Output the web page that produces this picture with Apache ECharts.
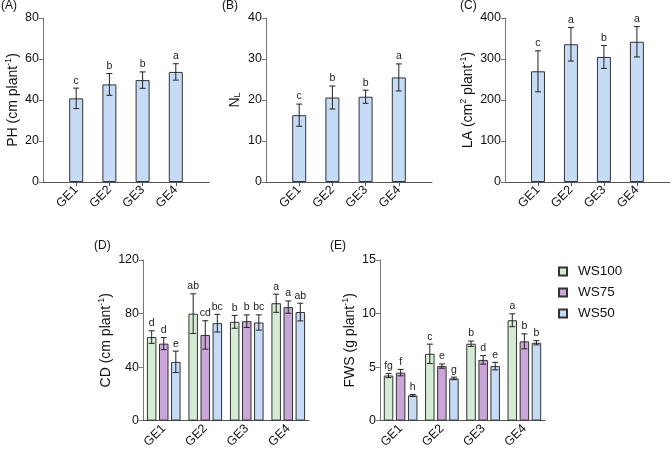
<!DOCTYPE html>
<html lang="en">
<head>
  <meta charset="UTF-8">
  <title>GE x WS</title>
  <style>
    html, body { margin: 0; padding: 0; background: #fff; }
    #chart { width: 672px; height: 451px; }
  </style>
</head>
<body>
  <div id="chart"></div>
  <script src="https://cdn.jsdelivr.net/npm/echarts@6/dist/echarts.min.js"></script>
  <script>
    // categories
    var cats = ['GE1', 'GE2', 'GE3', 'GE4'];
    var waterLevels = ['WS100', 'WS75', 'WS50'];

    // (A) plant height
    var phMean = [40.8, 47.6, 49.7, 53.7];
    var phErr = [5.0, 5.3, 4.0, 4.0];
    var phLetters = ['c', 'b', 'b', 'a'];
    // (B) leaf number
    var nlMean = [16.3, 20.6, 20.8, 25.5];
    var nlErr = [2.7, 2.8, 1.6, 3.3];
    var nlLetters = ['c', 'b', 'b', 'a'];
    // (C) leaf area
    var laMean = [270, 336, 305, 342];
    var laErr = [50, 41, 28, 37];
    var laLetters = ['c', 'a', 'b', 'a'];

    // (D) canopy diameter, one array per water level
    var cd100 = [62.4, 79.9, 73.8, 87.7];
    var cd100Err = [4.7, 14.8, 4.8, 6.8];
    var cd75 = [57.5, 64.0, 74.3, 84.8];
    var cd75Err = [4.5, 10.6, 4.7, 4.6];
    var cd50 = [43.9, 72.8, 73.3, 81.1];
    var cd50Err = [8.0, 6.6, 5.7, 6.6];
    var cd100Letters = ['d', 'ab', 'b', 'a'];
    var cd75Letters = ['d', 'cd', 'b', 'a'];
    var cd50Letters = ['e', 'bc', 'bc', 'ab'];

    // (E) fresh weight of shoot
    var fws100 = [4.21, 6.24, 7.18, 9.37];
    var fws100Err = [0.2, 0.9, 0.25, 0.6];
    var fws75 = [4.48, 5.09, 5.67, 7.4];
    var fws75Err = [0.3, 0.2, 0.4, 0.7];
    var fws50 = [2.35, 3.94, 5.09, 7.27];
    var fws50Err = [0.1, 0.12, 0.35, 0.2];
    var fws100Letters = ['fg', 'c', 'b', 'a'];
    var fws75Letters = ['f', 'e', 'd', 'b'];
    var fws50Letters = ['h', 'g', 'e', 'b'];

    var FONT = '"Liberation Sans", Arial, sans-serif';
    var colors = ['#d4ecd4', '#cba6d9', '#c6dcf6'];
    var BAR_W = 9.5;
    var BAR_GAP = 0.27;

    var rich = {
      b: { fontSize: 14, fontFamily: FONT, color: '#111', lineHeight: 18 },
      sup: { fontSize: 9, fontFamily: FONT, color: '#111', lineHeight: 18, padding: [0, 0, 8, 0] },
      sub: { fontSize: 9, fontFamily: FONT, color: '#111', lineHeight: 18, padding: [6, 0, 0, 0] }
    };

    // top row uses padded categories so the axis runs a bit past the bars
    var padCats = [''].concat(cats, ['']);

    function topX(gi) {
      return {
        type: 'category', gridIndex: gi, data: padCats, boundaryGap: false,
        axisLine: { lineStyle: { color: '#555', width: 1 } },
        axisTick: { length: 4, lineStyle: { color: '#555' }, interval: function (i) { return i > 0 && i < 5; } },
        axisLabel: { rotate: 45, fontSize: 12.5, fontFamily: FONT, color: '#111', margin: 6, interval: 0 }
      };
    }
    function botX(gi) {
      return {
        type: 'category', gridIndex: gi, data: cats, boundaryGap: true,
        axisLine: { lineStyle: { color: '#555', width: 1 } },
        axisTick: { length: 4, alignWithLabel: true, lineStyle: { color: '#555' } },
        axisLabel: { rotate: 45, fontSize: 12.5, fontFamily: FONT, color: '#111', margin: 6, interval: 0 }
      };
    }
    function yAx(gi, max, interval, name, gap) {
      return {
        type: 'value', gridIndex: gi, min: 0, max: max, interval: interval,
        name: name, nameLocation: 'middle', nameGap: gap, nameRotate: 90,
        nameTextStyle: { rich: rich },
        axisLine: { show: true, lineStyle: { color: '#777', width: 1 } },
        axisTick: { show: true, length: 4, lineStyle: { color: '#777' } },
        axisLabel: { fontSize: 12.5, fontFamily: FONT, color: '#111', margin: 4 },
        splitLine: { show: false }
      };
    }

    // error bar + letter drawn in pixel space from data values
    function errSeries(gi, mean, err, letters, offset, name) {
      return {
        type: 'custom', name: name, xAxisIndex: gi, yAxisIndex: gi, z: 5,
        data: mean.map(function (m, i) { return [cats[i], m - err[i], m + err[i]]; }),
        renderItem: function (params, api) {
          var lo = api.coord([api.value(0), api.value(1)]);
          var hi = api.coord([api.value(0), api.value(2)]);
          var x = lo[0] + offset;
          var cap = 3;
          var style = { stroke: '#222', lineWidth: 1 };
          return {
            type: 'group',
            children: [
              { type: 'line', shape: { x1: x, y1: lo[1], x2: x, y2: hi[1] }, style: style },
              { type: 'line', shape: { x1: x - cap, y1: lo[1], x2: x + cap, y2: lo[1] }, style: style },
              { type: 'line', shape: { x1: x - cap, y1: hi[1], x2: x + cap, y2: hi[1] }, style: style },
              { type: 'text', x: x, y: hi[1] - 2, style: { text: letters[params.dataIndex], fill: '#222', font: '10.5px ' + FONT, textAlign: 'center', textVerticalAlign: 'bottom' } }
            ]
          };
        }
      };
    }

    function singleBar(gi, mean) {
      return {
        type: 'bar', xAxisIndex: gi, yAxisIndex: gi, barWidth: 14,
        data: mean.map(function (m, i) { return [cats[i], m]; }),
        itemStyle: { color: colors[2], borderColor: '#333', borderWidth: 1 },
        silent: true
      };
    }

    function groupBars(gi, arrs, errs, lets) {
      var out = [];
      var step = BAR_W * (1 + BAR_GAP);
      arrs.forEach(function (arr, s) {
        out.push({
          type: 'bar', name: waterLevels[s], xAxisIndex: gi, yAxisIndex: gi,
          barWidth: BAR_W, barGap: (BAR_GAP * 100) + '%',
          data: arr,
          itemStyle: { color: colors[s], borderColor: '#333', borderWidth: 1 }
        });
      });
      arrs.forEach(function (arr, s) {
        out.push(errSeries(gi, arr, errs[s], lets[s], (s - 1) * step));
      });
      return out;
    }

    var panelLabel = function (txt, x, y) {
      return { type: 'text', left: x, top: y, style: { text: txt, font: '12px ' + FONT, fill: '#111' } };
    };

    var option = {
      animation: false,
      textStyle: { fontFamily: FONT },
      grid: [
        { left: 43, top: 18, width: 166, height: 164 },
        { left: 266, top: 18, width: 166, height: 164 },
        { left: 505, top: 18, width: 165, height: 164 },
        { left: 143, top: 260, width: 166, height: 164.5 },
        { left: 380, top: 260, width: 165, height: 164.5 }
      ],
      xAxis: [topX(0), topX(1), topX(2), botX(3), botX(4)],
      yAxis: [
        yAx(0, 80, 20, '{b|PH (cm plant}{sup|-1}{b|)}', 19),
        yAx(1, 40, 10, '{b|N}{sub|L}', 22),
        yAx(2, 400, 100, '{b|LA (cm}{sup|2}{b| plant}{sup|-1}{b|)}', 26),
        yAx(3, 120, 40, '{b|CD (cm plant}{sup|-1}{b|)}', 24),
        yAx(4, 15, 5, '{b|FWS (g plant}{sup|-1}{b|)}', 21)
      ],
      legend: {
        orient: 'vertical', left: 553, top: 259, itemWidth: 8, itemHeight: 8, itemGap: 6,
        icon: 'rect', data: waterLevels,
        textStyle: { fontSize: 13.5, fontFamily: FONT, color: '#111', padding: [0, 0, 0, 6], lineHeight: 15 }
      },
      graphic: [
        panelLabel('(A)', 1, 0),
        panelLabel('(B)', 222, 0),
        panelLabel('(C)', 460, 0),
        panelLabel('(D)', 94, 240),
        panelLabel('(E)', 330, 240)
      ],
      series: [].concat(
        [singleBar(0, phMean), errSeries(0, phMean, phErr, phLetters, 0)],
        [singleBar(1, nlMean), errSeries(1, nlMean, nlErr, nlLetters, 0)],
        [singleBar(2, laMean), errSeries(2, laMean, laErr, laLetters, 0)],
        groupBars(3, [cd100, cd75, cd50], [cd100Err, cd75Err, cd50Err], [cd100Letters, cd75Letters, cd50Letters]),
        groupBars(4, [fws100, fws75, fws50], [fws100Err, fws75Err, fws50Err], [fws100Letters, fws75Letters, fws50Letters])
      )
    };

    var chart = echarts.init(document.getElementById('chart'));
    chart.setOption(option);
  </script>
</body>
</html>
